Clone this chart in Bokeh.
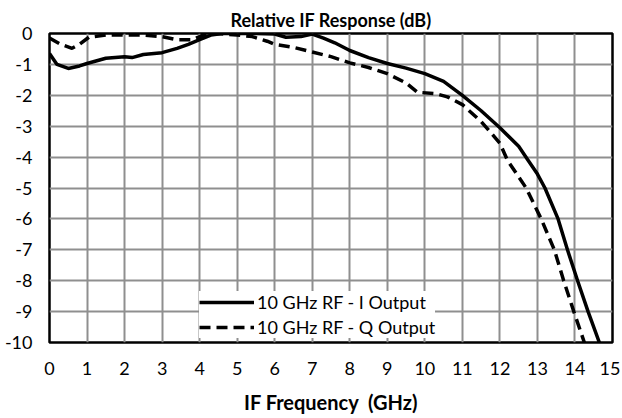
from bokeh.plotting import figure
from bokeh.models import Range1d, FixedTicker, Legend, LegendItem, Title
from bokeh.embed import file_html
from bokeh.resources import INLINE

# ---- data ----
i_freq = [0.0, 0.2, 0.5, 0.8, 1.0, 1.5, 2.0, 2.2, 2.5, 3.0, 3.4, 3.7, 4.0, 4.3, 4.6,
          5.0, 5.5, 6.0, 6.3, 6.7, 7.0, 7.3, 7.6, 8.0, 8.5, 9.0, 9.5, 10.0, 10.5,
          11.0, 11.5, 12.0, 12.5, 12.75, 13.0, 13.2, 13.55, 13.8, 14.07, 14.35, 14.65, 14.75]
i_resp = [-0.65, -1.0, -1.13, -1.05, -0.97, -0.8, -0.75, -0.78, -0.68, -0.62, -0.48, -0.35,
          -0.2, -0.05, 0.0, 0.0, 0.0, -0.02, -0.12, -0.1, -0.02, -0.15, -0.3, -0.55, -0.78,
          -0.97, -1.12, -1.3, -1.55, -2.0, -2.5, -3.05, -3.65, -4.1, -4.55, -5.0, -6.0,
          -7.0, -8.0, -9.0, -10.0, -10.35]

q_freq = [0.0, 0.3, 0.6, 0.8, 1.05, 1.5, 2.0, 2.5, 3.0, 3.4, 3.8, 4.1, 4.5, 5.0, 5.4,
          5.8, 6.0, 6.5, 7.0, 7.5, 8.0, 8.5, 9.0, 9.5, 9.8, 10.3, 10.6, 11.0, 11.5,
          12.0, 12.2, 12.7, 13.1, 13.45, 13.7, 13.97, 14.25, 14.35]
q_resp = [-0.15, -0.35, -0.48, -0.35, -0.12, -0.05, -0.05, -0.05, -0.1, -0.2, -0.2,
          -0.05, 0.0, -0.05, -0.1, -0.25, -0.35, -0.45, -0.6, -0.75, -0.95, -1.1, -1.3,
          -1.6, -1.9, -1.95, -2.05, -2.3, -2.85, -3.55, -4.1, -5.0, -6.0, -7.0, -8.0,
          -9.0, -10.0, -10.35]

x_ticks = list(range(0, 16))
y_ticks = list(range(-10, 1))
y_tick_labels = ["-10", "-9", "-8", "-7", "-6", "-5", "-4", "-3", "-2", "-1", "0"]

series_labels = ["10 GHz RF - I Output", "10 GHz RF - Q Output"]
title_text = "Relative IF Response (dB)"
x_label = "IF Frequency\u00a0\u00a0(GHz)"

FONT = "Lato"

p = figure(width=620, height=416, output_backend="svg", toolbar_location=None,
           x_range=Range1d(0, 15), y_range=Range1d(-10, 0),
           min_border_left=49, min_border_right=8, min_border_top=33, min_border_bottom=74)

p.add_layout(Title(text=title_text, align="center", vertical_align="middle", text_font=FONT,
                   text_font_size="18px", text_font_style="bold", text_color="black",
                   standoff=3, offset=0), "above")

p.background_fill_color = "white"
p.border_fill_color = "white"
p.outline_line_color = "black"
p.outline_line_width = 2.5

for ax in (p.xaxis[0], p.yaxis[0]):
    ax.axis_line_color = None
    ax.major_tick_line_color = None
    ax.minor_tick_line_color = None
    ax.major_label_text_font = FONT
    ax.major_label_text_font_size = "18px"
    ax.major_label_text_color = "black"

p.xaxis.ticker = FixedTicker(ticks=x_ticks)
p.yaxis.ticker = FixedTicker(ticks=y_ticks)
p.yaxis.major_label_overrides = {t: l for t, l in zip(y_ticks, y_tick_labels)}
p.xaxis.major_label_standoff = 13
p.yaxis.major_label_standoff = 11

p.xaxis.axis_label = x_label
p.xaxis.axis_label_text_font = FONT
p.xaxis.axis_label_text_font_size = "20px"
p.xaxis.axis_label_text_font_style = "bold"
p.xaxis.axis_label_text_color = "black"
p.xaxis.axis_label_standoff = 12

p.xgrid.grid_line_color = "#8f8f8f"
p.ygrid.grid_line_color = "#8f8f8f"
p.xgrid.grid_line_width = 2
p.ygrid.grid_line_width = 2

r_i = p.line(i_freq, i_resp, line_color="black", line_width=3.5)
r_q = p.line(q_freq, q_resp, line_color="black", line_width=3.5, line_dash="11 6")

legend = Legend(items=[LegendItem(label=series_labels[0], renderers=[r_i]),
                       LegendItem(label=series_labels[1], renderers=[r_q])],
                location=(150, 4), background_fill_color="white", background_fill_alpha=1.0,
                border_line_color=None, label_text_font=FONT, label_text_font_size="18px",
                label_text_color="black", glyph_width=55, glyph_height=20, spacing=3,
                padding=4, margin=0, label_standoff=3)
p.add_layout(legend)

open("out.html", "w").write(file_html(p, INLINE))
